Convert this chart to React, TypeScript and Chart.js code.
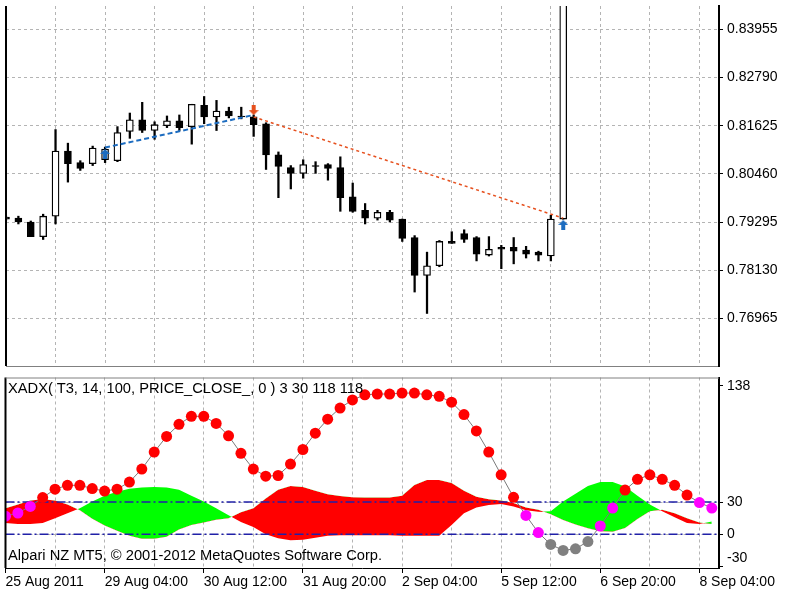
import React, { useEffect, useRef } from 'react';
import { Chart, registerables } from 'chart.js';

Chart.register(...registerables);

// ---------- data ----------
// H4 bars, index 0 = 25 Aug 2011 00:00
const OPEN = [0.79413, 0.79389, 0.79295, 0.78942, 0.79436, 0.81013, 0.80731, 0.80707, 0.80801, 0.80778, 0.81484, 0.81766, 0.81508, 0.81625, 0.81743, 0.81602, 0.82119, 0.81837, 0.81978, 0.81860, 0.81837, 0.81672, 0.80919, 0.80613, 0.80472, 0.80660, 0.80684, 0.80613, 0.79907, 0.79578, 0.79389, 0.79531, 0.79366, 0.78919, 0.78001, 0.78236, 0.78825, 0.79013, 0.78919, 0.78495, 0.78683, 0.78683, 0.78613, 0.78566, 0.78472, 0.79366];
const HIGH = [0.79436, 0.79436, 0.79319, 0.79484, 0.81531, 0.81202, 0.80778, 0.81131, 0.81107, 0.81602, 0.81931, 0.82190, 0.81719, 0.81860, 0.81884, 0.82143, 0.82331, 0.82237, 0.82072, 0.82072, 0.81884, 0.81696, 0.80990, 0.80660, 0.80801, 0.80754, 0.80707, 0.80872, 0.80237, 0.79742, 0.79578, 0.79578, 0.79366, 0.78966, 0.78566, 0.78848, 0.79060, 0.79107, 0.78942, 0.78942, 0.78730, 0.78919, 0.78707, 0.78589, 0.79460, 0.87000];
const LOW = [0.79342, 0.79248, 0.78942, 0.78872, 0.79248, 0.80260, 0.80543, 0.80660, 0.80731, 0.80754, 0.81319, 0.81460, 0.81296, 0.81578, 0.81508, 0.81178, 0.81672, 0.81508, 0.81813, 0.81790, 0.81366, 0.80566, 0.79884, 0.80095, 0.80354, 0.80472, 0.80307, 0.79554, 0.79531, 0.79248, 0.79342, 0.79295, 0.78825, 0.77601, 0.77083, 0.78213, 0.78778, 0.78801, 0.78354, 0.78472, 0.78166, 0.78283, 0.78424, 0.78354, 0.78354, 0.79366];
const CLOSE = [0.79366, 0.79295, 0.78942, 0.79436, 0.81013, 0.80707, 0.80590, 0.81084, 0.81060, 0.81460, 0.81766, 0.81508, 0.81649, 0.81743, 0.81578, 0.82143, 0.81837, 0.81978, 0.81860, 0.81837, 0.81649, 0.80919, 0.80637, 0.80472, 0.80684, 0.80637, 0.80590, 0.79884, 0.79554, 0.79389, 0.79531, 0.79342, 0.78895, 0.78001, 0.78236, 0.78825, 0.78778, 0.78872, 0.78519, 0.78636, 0.78636, 0.78589, 0.78519, 0.78495, 0.79366, 0.87000];

// trade signals (bar index, price, side)
const SIGNAL_BAR = [8, 20, 45];
const SIGNAL_PRICE = [0.80943, 0.82002, 0.79225];
const SIGNAL_SIDE = ['buy', 'sell', 'buy'];
// signal connection lines
const BUY_LINE_BAR = [8, 20];
const BUY_LINE_PRICE = [0.81095, 0.81884];
const SELL_LINE_BAR = [20, 45];
const SELL_LINE_PRICE = [0.81837, 0.79389];

const PRICE_TICKS = [0.83955, 0.8279, 0.81625, 0.8046, 0.79295, 0.7813, 0.76965];

// XADX indicator
const ADX = [16.8, 19.8, 25.9, 34.1, 42.0, 45.6, 45.6, 42.5, 40.2, 42.0, 48.6, 60.7, 76.5, 91.1, 102.3, 109.8, 109.8, 103.2, 91.6, 75.3, 60.7, 54.1, 54.7, 65.3, 78.9, 94.1, 107.1, 117.5, 125.0, 129.8, 130.5, 130.5, 131.4, 131.4, 129.8, 128.4, 122.9, 111.4, 96.2, 76.5, 55.3, 34.4, 17.5, 1.6, -9.5, -15.0, -13.5, -6.8, 7.7, 24.4, 41.1, 51.1, 55.3, 51.1, 45.6, 36.5, 29.5, 24.4];
const DI_PLUS = [10.5, 9.5, 9.5, 10.5, 15.0, 19.5, 24.1, 30.5, 35.9, 39.5, 42.3, 43.6, 44.1, 43.6, 41.4, 35.9, 30.5, 24.1, 17.7, 11.4, 6.8, 0, -3.6, -5.5, -5.0, -3.2, -1.4, -0.9, -0.9, -0.9, -0.9, -0.9, -1.4, -1.4, -1.4, -1.4, 8.6, 19.5, 25.0, 27.3, 28.2, 25.9, 22.3, 20.9, 21.4, 30.5, 37.7, 45.0, 48.6, 48.6, 44.5, 35.9, 27.7, 21.4, 15.9, 10.5, 9.5, 11.8];
const DI_MINUS = [24.1, 27.7, 31.4, 32.5, 31.4, 27.7, 22.3, 14.5, 8.2, 3.2, -1.4, -4.1, -4.1, -2.3, 4.5, 8.6, 10.9, 13.6, 15.0, 20.5, 24.1, 33.2, 41.4, 45.0, 44.1, 40.5, 37.3, 35.5, 34.5, 34.1, 34.1, 34.1, 35.9, 45.9, 50.5, 50.5, 47.7, 40.5, 35.0, 32.7, 31.4, 29.1, 25.0, 22.7, 18.6, 13.2, 9.1, 5.5, 2.7, 2.3, 5.9, 14.1, 21.4, 22.7, 19.5, 15.0, 10.9, 9.5];
const LEVELS = [30, 0];
const ADX_TICKS = [138, 30, 0, -30];

const TIME_LABELS = ['25 Aug 2011', '29 Aug 04:00', '30 Aug 12:00', '31 Aug 20:00', '2 Sep 04:00', '5 Sep 12:00', '6 Sep 20:00', '8 Sep 04:00'];
const BARS_PER_LABEL = 8;
const BARS_PER_GRID = 4;

const INDICATOR_TITLE = 'XADX( T3, 14, 100, PRICE_CLOSE_, 0 ) 3 30 118 118';
const COPYRIGHT = 'Alpari NZ MT5, \u00A9 2001-2012 MetaQuotes Software Corp.';

// ---------- axes / styles ----------
const X_MIN = 0;
const X_MAX = 57.58;
const PRICE_MIN = 0.75812;
const PRICE_MAX = 0.8452;
const ADX_MIN = -31.4;
const ADX_MAX = 145.9;

const FONT = 'Liberation Sans';
const GRID_COLOR = '#b4b4b4';
const BUY_COLOR = '#1c6cc0';
const SELL_COLOR = '#e6501e';
const LEVEL_COLOR = '#2020a8';

const CANDLE_BARS = OPEN.map((_, i) => i);
const ADX_BARS = ADX.map((_, i) => i);
const GRID_TICKS = ADX_BARS.filter((i) => i % BARS_PER_GRID === 0);

function makeArrow(color: string, up: boolean) {
  const c = document.createElement('canvas');
  c.width = 10;
  c.height = 10;
  const g = c.getContext('2d')!;
  g.fillStyle = color;
  g.beginPath();
  if (up) {
    g.moveTo(5, 0); g.lineTo(10, 5); g.lineTo(7, 5); g.lineTo(7, 10); g.lineTo(3, 10); g.lineTo(3, 5); g.lineTo(0, 5);
  } else {
    g.moveTo(5, 10); g.lineTo(10, 5); g.lineTo(7, 5); g.lineTo(7, 0); g.lineTo(3, 0); g.lineTo(3, 5); g.lineTo(0, 5);
  }
  g.closePath();
  g.fill();
  return c;
}

function tightFit(size: { width?: number; height?: number }) {
  return (s: any) => {
    if (size.width !== undefined) s.width = size.width;
    if (size.height !== undefined) s.height = size.height;
    s.paddingLeft = 0;
    s.paddingRight = 0;
    s.paddingTop = 0;
    s.paddingBottom = 0;
  };
}

function framePlugin(drawTop: boolean) {
  return {
    id: 'frame',
    afterDraw(chart: any) {
      const { ctx, chartArea: a } = chart;
      ctx.save();
      ctx.setLineDash([]);
      ctx.strokeStyle = '#000';
      ctx.lineWidth = 2;
      ctx.beginPath();
      ctx.moveTo(a.left, a.top);
      ctx.lineTo(a.left, a.bottom);
      ctx.stroke();
      if (drawTop) {
        ctx.strokeStyle = '#808080';
        ctx.lineWidth = 1;
        ctx.beginPath();
        ctx.moveTo(a.left, a.top + 0.5);
        ctx.lineTo(a.right, a.top + 0.5);
        ctx.stroke();
      }
      ctx.restore();
    },
  };
}

export default function App() {
  const priceRef = useRef<HTMLCanvasElement | null>(null);
  const adxRef = useRef<HTMLCanvasElement | null>(null);

  useEffect(() => {
    const upArrow = makeArrow(BUY_COLOR, true);
    const downArrow = makeArrow(SELL_COLOR, false);
    const tickFont = { family: FONT, size: 14 };

    const priceChart = new Chart(priceRef.current!, {
      type: 'bar',
      data: {
        datasets: [
          {
            type: 'bar',
            label: 'wick',
            data: CANDLE_BARS.map((k) => ({ x: k, y: [LOW[k], HIGH[k]] })) as any,
            backgroundColor: '#000',
            barThickness: 1.6,
            maxBarThickness: 1.6,
            barPercentage: 1,
            categoryPercentage: 1,
            grouped: false,
            order: 5,
            clip: 0,
          } as any,
          {
            type: 'bar',
            label: 'body',
            data: CANDLE_BARS.map((k) => ({ x: k, y: [OPEN[k], CLOSE[k]] })) as any,
            backgroundColor: CANDLE_BARS.map((k) => (CLOSE[k] >= OPEN[k] ? '#fff' : '#000')),
            borderColor: '#000',
            borderWidth: 1.3,
            borderSkipped: false,
            barThickness: 7,
            maxBarThickness: 7,
            barPercentage: 1,
            categoryPercentage: 1,
            grouped: false,
            order: 4,
            clip: 0,
          } as any,
          {
            type: 'line',
            label: 'buy line',
            data: BUY_LINE_BAR.map((k, i) => ({ x: k, y: BUY_LINE_PRICE[i] })),
            borderColor: BUY_COLOR,
            borderWidth: 2,
            borderDash: [5, 3],
            pointRadius: 0,
            order: 3,
            clip: 0,
          } as any,
          {
            type: 'line',
            label: 'sell line',
            data: SELL_LINE_BAR.map((k, i) => ({ x: k, y: SELL_LINE_PRICE[i] })),
            borderColor: SELL_COLOR,
            borderWidth: 1.5,
            borderDash: [3, 3],
            pointRadius: 0,
            order: 3,
            clip: 0,
          } as any,
          {
            type: 'line',
            label: 'signals',
            data: SIGNAL_BAR.map((k, i) => ({ x: k, y: SIGNAL_PRICE[i] })),
            showLine: false,
            pointRadius: 5,
            pointStyle: (c: any) => (SIGNAL_SIDE[c.dataIndex] === 'buy' ? upArrow : downArrow),
            order: 0,
            clip: 0,
          } as any,
        ],
      },
      options: {
        responsive: false,
        animation: false,
        devicePixelRatio: 1,
        events: [],
        layout: { padding: { left: 5, top: 0, right: 0, bottom: 0 } },
        plugins: { legend: { display: false }, tooltip: { enabled: false } },
        scales: {
          x: {
            type: 'linear',
            min: X_MIN,
            max: X_MAX,
            offset: false,
            grid: {
              offset: false,
              drawTicks: false,
              color: (c: any) => (c.tick && c.tick.value === 0 ? 'transparent' : GRID_COLOR),
            },
            border: { color: '#808080', width: 1, dash: [3, 3] },
            ticks: { display: false },
            afterBuildTicks: (s: any) => {
              s.ticks = GRID_TICKS.map((v) => ({ value: v }));
            },
            afterFit: tightFit({ height: 2 }),
          },
          y: {
            type: 'linear',
            position: 'right',
            min: PRICE_MIN,
            max: PRICE_MAX,
            grid: { color: GRID_COLOR, tickColor: '#000', tickLength: 4 },
            border: { color: '#000', width: 2, dash: [3, 3] },
            ticks: {
              font: tickFont,
              color: '#000',
              padding: 4,
              callback: (v: any) => Number(v).toFixed(5),
            },
            afterBuildTicks: (s: any) => {
              s.ticks = PRICE_TICKS.map((v) => ({ value: v }));
            },
            afterFit: tightFit({ width: 81 }),
          },
        },
      } as any,
      plugins: [framePlugin(false)],
    } as any);

    const dotColor = (v: number) => (v > LEVELS[0] ? '#ff0000' : v >= LEVELS[1] ? '#ff00ff' : '#808080');

    const adxChart = new Chart(adxRef.current!, {
      type: 'line',
      data: {
        datasets: [
          {
            label: 'ADX',
            data: ADX_BARS.map((k) => ({ x: k, y: ADX[k] })),
            borderColor: '#7a7a7a',
            borderWidth: 1,
            pointRadius: 5.5,
            pointBorderWidth: 0,
            pointBackgroundColor: (c: any) => dotColor(ADX[c.dataIndex]),
            order: 0,
            clip: 0,
          },
          ...LEVELS.map((lvl) => ({
            label: 'level ' + lvl,
            data: [
              { x: X_MIN, y: lvl },
              { x: X_MAX, y: lvl },
            ],
            borderColor: LEVEL_COLOR,
            borderWidth: 1.5,
            borderDash: [9, 3, 2, 3],
            pointRadius: 0,
            order: 1,
            clip: 0,
          })),
          {
            label: '+DI',
            data: ADX_BARS.map((k) => ({ x: k, y: DI_PLUS[k] })),
            borderColor: 'transparent',
            borderWidth: 0,
            pointRadius: 0,
            fill: { target: '+1', above: '#00ff00', below: '#ff0000' },
            order: 2,
            clip: 0,
          },
          {
            label: '-DI',
            data: ADX_BARS.map((k) => ({ x: k, y: DI_MINUS[k] })),
            borderColor: 'transparent',
            borderWidth: 0,
            pointRadius: 0,
            fill: false,
            order: 3,
            clip: 0,
          },
        ],
      } as any,
      options: {
        responsive: false,
        animation: false,
        devicePixelRatio: 1,
        events: [],
        layout: { padding: { left: 5, top: 1, right: 0, bottom: 0 } },
        plugins: { legend: { display: false }, tooltip: { enabled: false } },
        scales: {
          x: {
            type: 'linear',
            min: X_MIN,
            max: X_MAX,
            offset: false,
            grid: {
              offset: false,
              color: (c: any) => (c.tick && c.tick.value === 0 ? 'transparent' : GRID_COLOR),
              tickColor: (c: any) => (c.tick && c.tick.value % BARS_PER_LABEL === 0 ? '#000' : 'transparent'),
              tickLength: 5,
            },
            border: { color: '#000', width: 1, dash: [3, 3] },
            ticks: {
              font: tickFont,
              color: '#000',
              padding: 1,
              align: 'start',
              autoSkip: false,
              maxRotation: 0,
              minRotation: 0,
              callback: (v: any) => (Number(v) % BARS_PER_LABEL === 0 ? TIME_LABELS[Number(v) / BARS_PER_LABEL] : ''),
            },
            afterBuildTicks: (s: any) => {
              s.ticks = GRID_TICKS.map((v) => ({ value: v }));
            },
            afterFit: tightFit({ height: 32 }),
          },
          y: {
            type: 'linear',
            position: 'right',
            min: ADX_MIN,
            max: ADX_MAX,
            grid: {
              color: (c: any) => (c.tick && LEVELS.includes(c.tick.value) ? GRID_COLOR : 'transparent'),
              tickColor: '#000',
              tickLength: 4,
            },
            border: { color: '#000', width: 2, dash: [3, 3] },
            ticks: {
              font: tickFont,
              color: '#000',
              padding: 4,
              callback: (v: any) => (Number(v) === ADX_TICKS[ADX_TICKS.length - 1] ? [String(v), ''] : String(v)),
            },
            afterBuildTicks: (s: any) => {
              s.ticks = ADX_TICKS.map((v) => ({ value: v }));
            },
            afterFit: tightFit({ width: 81 }),
          },
        },
      } as any,
      plugins: [framePlugin(true)],
    } as any);

    return () => {
      priceChart.destroy();
      adxChart.destroy();
    };
  }, []);

  const textStyle: React.CSSProperties = {
    position: 'absolute',
    left: 8,
    font: `14.7px "${FONT}"`,
    lineHeight: '16px',
    whiteSpace: 'nowrap',
    color: '#000',
  };

  return (
    <div style={{ position: 'absolute', left: 0, top: 0, width: 800, height: 600, background: '#fff', overflow: 'hidden' }}>
      <canvas ref={priceRef} width={800} height={372} style={{ position: 'absolute', left: 0, top: 0 }} />
      <canvas ref={adxRef} width={800} height={228} style={{ position: 'absolute', left: 0, top: 372 }} />
      <div style={{ ...textStyle, top: 380 }}>{INDICATOR_TITLE}</div>
      <div style={{ ...textStyle, top: 547 }}>{COPYRIGHT}</div>
    </div>
  );
}
